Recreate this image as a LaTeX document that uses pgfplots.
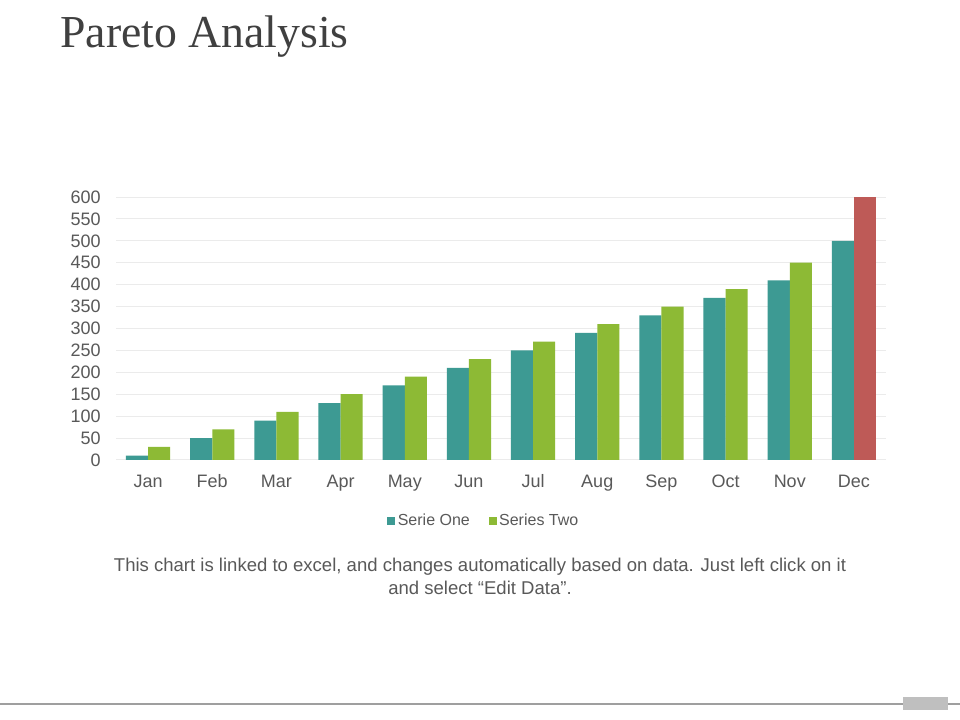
\documentclass[border=0pt]{standalone}
\usepackage{pgfplots}
\pgfplotsset{compat=1.18}
\usepackage{fontspec}
\setmainfont{Liberation Sans}
\newfontfamily\titlefont{Liberation Serif}
\definecolor{serone}{HTML}{3D9A93}
\definecolor{sertwo}{HTML}{8DBA35}
\definecolor{decred}{HTML}{BE5A57}
\definecolor{titlegray}{HTML}{404040}
\definecolor{labelgray}{HTML}{595959}
\definecolor{gridgray}{HTML}{EBEBEB}
\begin{document}
\begin{tikzpicture}
\path[use as bounding box, fill=white] (0,0) rectangle (720pt,540pt);
\node[anchor=base west, inner sep=0, text=titlegray,
  font=\titlefont\fontsize{34.3}{40}\selectfont] at (45pt,504pt) {Pareto Analysis};
\begin{axis}[
    at={(87pt,195pt)}, anchor=south west,
    scale only axis, width=577.5pt, height=197.25pt,
    xmin=-0.5, xmax=11.5, ymin=0, ymax=600,
    ytick={0,50,...,600},
    xtick={0,...,11},
    xticklabels={Jan,Feb,Mar,Apr,May,Jun,Jul,Aug,Sep,Oct,Nov,Dec},
    ymajorgrids, grid style={gridgray, line width=0.75pt},
    axis line style={draw=none},
    major tick length=0,
    /pgf/number format/assume math mode=true,
    tick label style={text=labelgray, font=\fontsize{13.5}{16}\selectfont},
    yticklabel style={xshift=-8pt},
    xticklabel style={anchor=base, yshift=-21pt},
    legend style={at={(0.478,-0.232)}, anchor=center, draw=none, fill=none,
      legend columns=-1, text=labelgray, font=\fontsize{12}{14}\selectfont,
      /tikz/every even column/.append style={column sep=12pt}},
    legend image code/.code={\fill[#1] (0pt,-3pt) rectangle (6pt,3pt);},
  ]
  \addplot[ybar, bar width=0.345, bar shift=-0.1725, fill=serone, draw=none]
    coordinates {(0,10) (1,50) (2,90) (3,130) (4,170) (5,210) (6,250) (7,290) (8,330) (9,370) (10,410) (11,500)};
  \addlegendentry{Serie One}
  \addplot[ybar, bar width=0.345, bar shift=0.1725, fill=sertwo, draw=none]
    coordinates {(0,30) (1,70) (2,110) (3,150) (4,190) (5,230) (6,270) (7,310) (8,350) (9,390) (10,450)};
  \addlegendentry{Series Two}
  \addplot[ybar, bar width=0.345, bar shift=0.1725, fill=decred, draw=none, forget plot]
    coordinates {(11,600)};
\end{axis}
\node[align=center, text=labelgray, font=\fontsize{13.9}{17.25}\selectfont] at (360pt,108pt)
  {This chart is linked to excel, and changes automatically based on data. Just left click on it\\and select “Edit Data”.};
\draw[color=gray!75, line width=1.1pt] (0,12pt) -- (720pt,12pt);
\fill[gray!50] (677pt,7.5pt) rectangle (711pt,17.25pt);
\end{tikzpicture}
\end{document}
